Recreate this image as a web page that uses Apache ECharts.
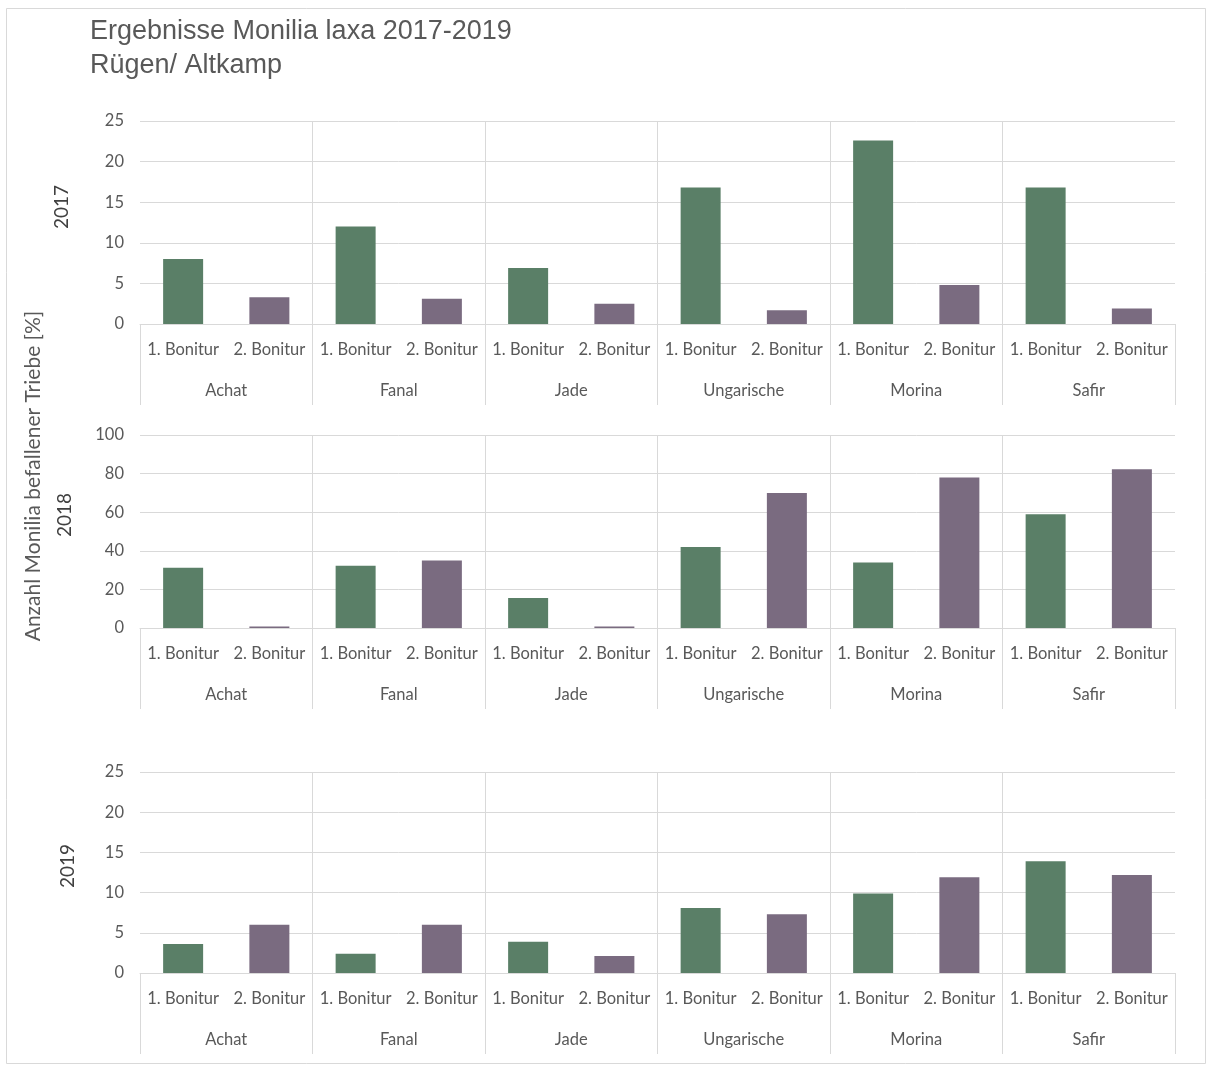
<!DOCTYPE html>
<html>
<head>
<meta charset="utf-8">
<script src="https://cdn.jsdelivr.net/npm/echarts@6/dist/echarts.min.js"></script>
<style>
html,body{margin:0;padding:0;background:#fff;}
#chart{width:1212px;height:1068px;}
</style>
</head>
<body>
<div id="chart"></div>
<script>
const varieties = ['Achat', 'Fanal', 'Jade', 'Ungarische', 'Morina', 'Safir'];
const bonitur = ['1. Bonitur', '2. Bonitur'];
const years = ['2017', '2018', '2019'];

const y2017_b1 = [8.0, 12.0, 6.9, 16.8, 22.6, 16.8];
const y2017_b2 = [3.3, 3.1, 2.5, 1.7, 4.8, 1.9];
const y2018_b1 = [31.2, 32.3, 15.5, 42.0, 34.0, 59.0];
const y2018_b2 = [0.8, 35.0, 0.8, 70.0, 78.0, 82.3];
const y2019_b1 = [3.6, 2.4, 3.9, 8.1, 9.9, 13.9];
const y2019_b2 = [6.0, 6.0, 2.1, 7.3, 11.9, 12.2];

const yMax = [25, 100, 25];
const yInterval = [5, 20, 5];

const title = 'Ergebnisse Monilia laxa 2017-2019\nRügen/ Altkamp';
const yTitle = 'Anzahl Monilia befallener Triebe [%]';

const GREEN = '#5a7f67';
const PURPLE = '#7a6b80';
const GRIDC = '#d9d9d9';
const TXT = '#595959';
const FONT = 'Lato, "Open Sans", sans-serif';

const yearData = [[y2017_b1, y2017_b2], [y2018_b1, y2018_b2], [y2019_b1, y2019_b2]];

const subCats = [];
varieties.forEach(v => bonitur.forEach(b => subCats.push(b)));

function interleave(arr, slot) {
  const out = [];
  arr.forEach(v => { out.push(slot === 0 ? v : null); out.push(slot === 1 ? v : null); });
  return out;
}

const grids = [
  {left: 140, right: 37, top: 121, height: 203},
  {left: 140, right: 37, top: 435, height: 193},
  {left: 140, right: 37, top: 772, height: 201}
];

const xAxes = [], yAxes = [], series = [];
years.forEach((yr, i) => {
  xAxes.push({
    type: 'category', gridIndex: i, data: subCats, position: 'bottom',
    axisLine: {show: true, lineStyle: {color: GRIDC, width: 1}},
    axisTick: {show: false},
    axisLabel: {interval: 0, margin: 17, color: TXT, fontSize: 16.5, fontFamily: FONT},
    splitLine: {show: false}
  });
  xAxes.push({
    type: 'category', gridIndex: i, data: varieties, position: 'bottom',
    axisLine: {show: false},
    axisTick: {show: true, length: 81, interval: 0, lineStyle: {color: GRIDC, width: 1}},
    axisLabel: {interval: 0, margin: 58, color: TXT, fontSize: 16.5, fontFamily: FONT},
    splitLine: {show: true, interval: 0, showMinLine: false, showMaxLine: false, lineStyle: {color: GRIDC, width: 1}}
  });
  yAxes.push({
    type: 'value', gridIndex: i, min: 0, max: yMax[i], interval: yInterval[i],
    axisLine: {show: false}, axisTick: {show: false},
    axisLabel: {margin: 16, color: TXT, fontSize: 16.5, fontFamily: FONT},
    splitLine: {show: true, lineStyle: {color: GRIDC, width: 1}}
  });
  [0, 1].forEach(s => {
    series.push({
      type: 'bar', name: bonitur[s], xAxisIndex: i * 2, yAxisIndex: i,
      data: interleave(yearData[i][s], s),
      barWidth: 40, barGap: '-100%',
      itemStyle: {color: s === 0 ? GREEN : PURPLE},
      silent: true
    });
  });
});

const yearPos = [[62, 207], [65, 515], [68, 866]];

const chart = echarts.init(document.getElementById('chart'), null, {renderer: 'canvas'});
chart.setOption({
  animation: false,
  backgroundColor: '#ffffff',
  title: {
    text: title, left: 85, top: 10,
    textStyle: {fontFamily: '"Liberation Sans", Arial, sans-serif', fontSize: 27, fontWeight: 'normal', color: TXT, lineHeight: 34}
  },
  grid: grids,
  xAxis: xAxes,
  yAxis: yAxes,
  series: series,
  graphic: [
    {type: 'rect', shape: {x: 6.5, y: 8.5, width: 1199, height: 1055}, style: {fill: null, stroke: GRIDC, lineWidth: 1}, z: -1},
    {type: 'text', x: 33, y: 476, rotation: Math.PI / 2,
     style: {text: yTitle, fontSize: 21, fontFamily: FONT, fill: TXT, align: 'center', verticalAlign: 'middle'}}
  ].concat(years.map((yr, i) => ({
    type: 'text', x: yearPos[i][0], y: yearPos[i][1], rotation: Math.PI / 2,
    style: {text: yr, fontSize: 19, fontFamily: FONT, fill: '#404040', align: 'center', verticalAlign: 'middle'}
  })))
});
</script>
</body>
</html>
